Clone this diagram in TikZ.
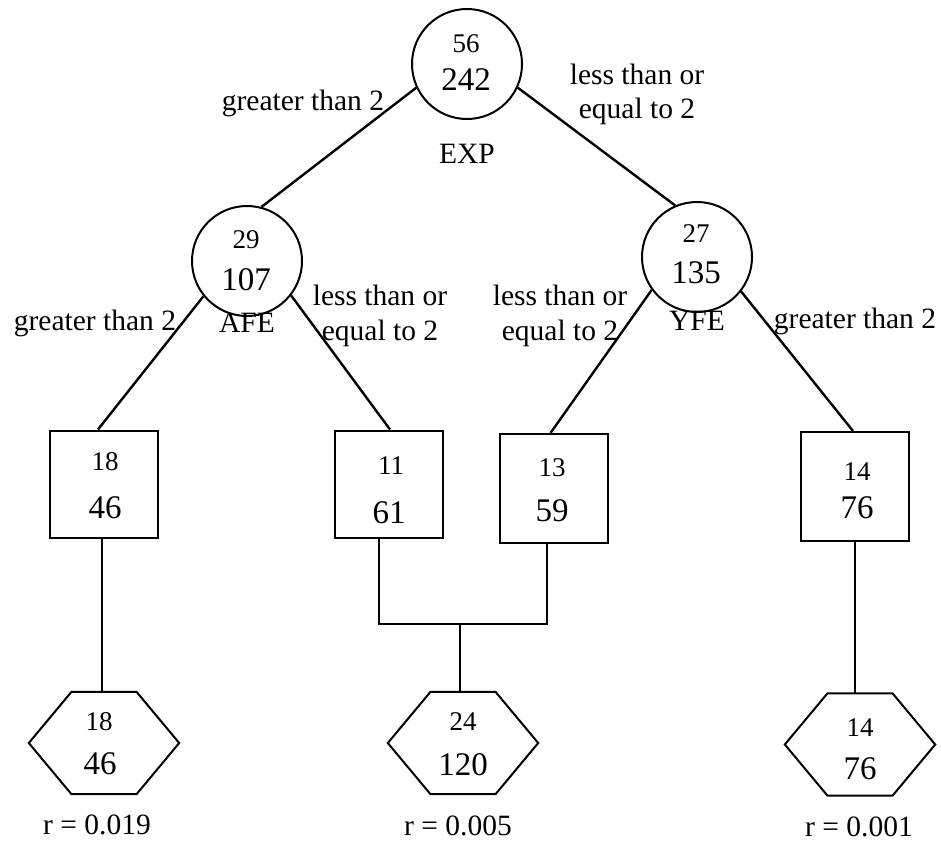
\documentclass[tikz,border=0pt]{standalone}
\usepackage{fontspec}
\setmainfont{Liberation Serif}
\usetikzlibrary{calc}
\newcommand\hexdraw[1]{\draw[hexline] (#1.west) -- ($(#1.north)+(-32.5,0)$) -- ($(#1.north)+(32.5,0)$) -- (#1.east) -- ($(#1.south)+(32.5,0)$) -- ($(#1.south)+(-32.5,0)$) -- cycle;}
\begin{document}
\begin{tikzpicture}[x=1pt,y=-1pt,
 circ/.style={circle,draw,line width=2pt,minimum size=110pt,inner sep=0pt},
 boxn/.style={rectangle,draw,line width=2pt,minimum width=108pt,minimum height=107pt,inner sep=0pt},
 hexn/.style={rectangle,minimum width=150pt,minimum height=102pt,inner sep=0pt},
 hexline/.style={line width=2pt,line join=miter},
 edge/.style={line width=2.4pt},
 thinline/.style={line width=1.2pt},
 lab/.style={font=\fontsize{29.5}{34}\selectfont,inner sep=0pt,anchor=base},
 nsm/.style={font=\fontsize{27}{30}\selectfont,inner sep=0pt},
 nbg/.style={font=\fontsize{33}{36}\selectfont,inner sep=0pt},
]
\useasboundingbox (0,0) rectangle (941,841);

% circles
\node[circ] (exp) at (467,64) {};
\node[nsm] (exp1) at (466,44) {56};
\node[nbg] (exp2) at (466,80) {242};
\node[circ] (afe) at (247,261) {};
\node[nsm] (afe1) at (246,240) {29};
\node[nbg] (afe2) at (246,280) {107};
\node[circ] (yfe) at (697,257) {};
\node[nsm] (yfe1) at (696,234) {27};
\node[nbg] (yfe2) at (696,273) {135};

% boxes
\node[boxn] (box1) at (104,484) {};
\node[nsm] (box1a) at (105,462) {18};
\node[nbg] (box1b) at (105,508) {46};
\node[boxn] (box2) at (389,484) {};
\node[nsm] (box2a) at (391,466) {11};
\node[nbg] (box2b) at (389,513) {61};
\node[boxn,minimum height=109pt] (box3) at (553.5,488.5) {};
\node[nsm] (box3a) at (552,468) {13};
\node[nbg] (box3b) at (552,511) {59};
\node[boxn,minimum height=109pt] (box4) at (855,486.5) {};
\node[nsm] (box4a) at (857,472) {14};
\node[nbg] (box4b) at (857,508) {76};

% hexagons
\node[hexn] (hex1) at (104,743) {};
\node[nsm] (hex1a) at (99,722) {18};
\node[nbg] (hex1b) at (100,764) {46};
\node[hexn] (hex2) at (463,743) {};
\node[nsm] (hex2a) at (463,722) {24};
\node[nbg] (hex2b) at (463,765) {120};
\node[hexn] (hex3) at (860,744.5) {};
\node[nsm] (hex3a) at (860,728) {14};
\node[nbg] (hex3b) at (860,769) {76};
\hexdraw{hex1}
\hexdraw{hex2}
\hexdraw{hex3}

% labels
\node[lab] (l1) at (303,110) {greater than 2};
\node[lab] (l2a) at (637,84) {less than or};
\node[lab] (l2b) at (637,118) {equal to 2};
\node[lab] (lexp) at (467,163) {EXP};
\node[lab] (l3) at (95,330) {greater than 2};
\node[lab] (lafe) at (247,332) {AFE};
\node[lab] (l4a) at (380,305) {less than or};
\node[lab] (l4b) at (380,340) {equal to 2};
\node[lab] (l5a) at (560,305) {less than or};
\node[lab] (l5b) at (560,340) {equal to 2};
\node[lab] (lyfe) at (697,330) {YFE};
\node[lab] (l6) at (855,328) {greater than 2};
\node[lab,text depth=0pt] (r1) at (97,834) {r = 0.019};
\node[lab,text depth=0pt] (r2) at (458,835) {r = 0.005};
\node[lab,text depth=0pt] (r3) at (859,836) {r = 0.001};

% tree edges
\draw[edge] (exp.205) -- (afe.75);
\draw[edge] (exp.335) -- (yfe.113);
\draw[edge] (afe.219) -- ($(box1.north)+(-6,0)$);
\draw[edge] (afe.322) -- ($(box2.north)+(1,0)$);
\draw[edge] (yfe.216) -- ($(box3.north)+(-3,0)$);
\draw[edge] (yfe.322) -- ($(box4.north)+(-2,0)$);

% lower connectors
\coordinate (c1) at ($(box1.south)+(-2,0)$);
\draw[thinline] (c1) -- (c1 |- hex1.north);
\coordinate (c2) at ($(box2.south)+(-10,0)$);
\coordinate (c3) at ($(box3.south)+(-6.5,0)$);
\coordinate (mid) at (460,624);
\draw[thinline] (c2) |- (mid) -| (c3);
\draw[thinline] (mid) -- (mid |- hex2.north);
\draw[thinline] (box4.south) -- (box4.south |- hex3.north);
\end{tikzpicture}
\end{document}
